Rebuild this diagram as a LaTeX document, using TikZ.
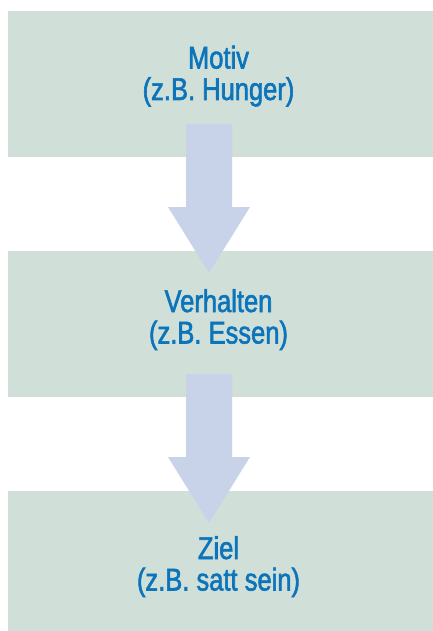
\documentclass[tikz,border=0pt]{standalone}
\usepackage{fontspec}
\setmainfont{Liberation Sans}[FakeStretch=0.81, FakeBold=1.8]
\definecolor{boxgreen}{HTML}{D0DFD8}
\definecolor{arrowblue}{HTML}{C8D3EA}
\definecolor{textblue}{HTML}{0B74BA}
\tikzset{
  stagebox/.style={fill=boxgreen, draw=none, minimum width=425pt, minimum height=146pt, inner sep=0pt},
  stagetext/.style={text=textblue, align=center, inner sep=0pt, anchor=base,
    font=\fontsize{31.5}{31.5}\selectfont},
  flowarrow/.style={fill=arrowblue, draw=none}
}
\begin{document}
\begin{tikzpicture}[x=1pt,y=-1pt]
  \useasboundingbox (0,0) rectangle (433,631);
  % three stages
  \node[stagebox] (motiv)     at (220.5,84)  {};
  \node[stagebox] (verhalten) at (220.5,324) {};
  \node[stagebox, minimum height=140pt] (ziel) at (220.5,561) {};
  % block arrows between the stages
  \coordinate (a1) at (209,124);
  \coordinate (a2) at (209,374);
  \fill[flowarrow] ([xshift=-23pt]a1) -- ([xshift=23pt]a1) -- ([xshift=23pt,yshift=-83pt]a1)
    -- ([xshift=41pt,yshift=-83pt]a1) -- ([yshift=-149pt]a1) -- ([xshift=-41pt,yshift=-83pt]a1)
    -- ([xshift=-23pt,yshift=-83pt]a1) -- cycle;
  \fill[flowarrow] ([xshift=-23pt]a2) -- ([xshift=23pt]a2) -- ([xshift=23pt,yshift=-83pt]a2)
    -- ([xshift=41pt,yshift=-83pt]a2) -- ([yshift=-149pt]a2) -- ([xshift=-41pt,yshift=-83pt]a2)
    -- ([xshift=-23pt,yshift=-83pt]a2) -- cycle;
  % labels (anchored at the baseline of the last line)
  \node[stagetext] (tm) at (218.5,100)  {Motiv\\(z.B. Hunger)};
  \node[stagetext] (tv) at (218.5,343.5) {Verhalten\\(z.B. Essen)};
  \node[stagetext] (tz) at (218.5,590.5) {Ziel\\(z.B. satt sein)};
\end{tikzpicture}
\end{document}
